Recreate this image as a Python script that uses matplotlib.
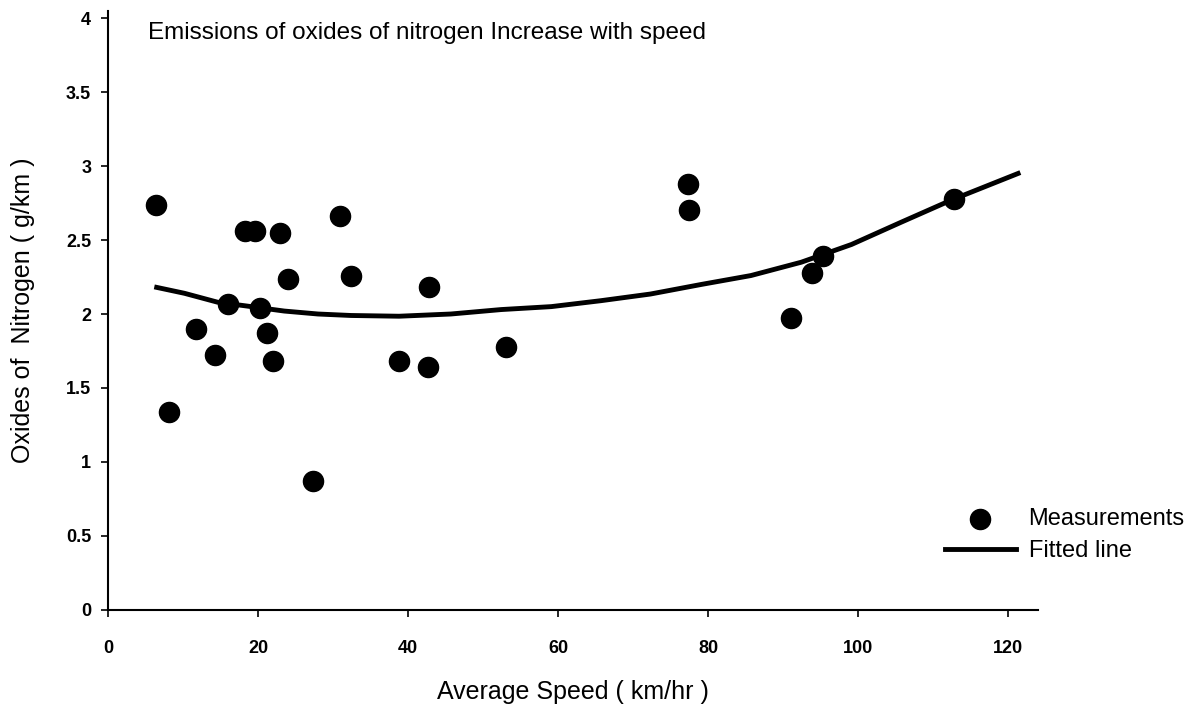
import matplotlib
matplotlib.use("Agg")
import matplotlib.pyplot as plt

plt.rcParams['font.family'] = ['Liberation Sans', 'DejaVu Sans']

speed = [6.4, 8.1, 11.7, 14.3, 16.0, 18.3, 19.6, 20.3, 21.2, 22.0, 22.9, 24.0,
         27.3, 30.9, 32.4, 38.8, 42.7, 42.8, 53.1, 77.3, 77.5, 91.1, 93.9, 95.3, 112.8]
nox = [2.74, 1.34, 1.90, 1.72, 2.07, 2.56, 2.56, 2.04, 1.87, 1.68, 2.55, 2.24,
       0.87, 2.66, 2.26, 1.68, 1.64, 2.18, 1.78, 2.88, 2.70, 1.97, 2.28, 2.39, 2.78]

# fitted curve
fit_speed = [6.5, 10.2, 14.6, 19.1, 23.5, 28.0, 32.4, 38.8, 45.7, 52.4, 59.1,
             65.7, 72.3, 79.1, 85.7, 92.4, 99.1, 105.7, 112.4, 121.3]
fit_nox = [2.18, 2.14, 2.08, 2.05, 2.02, 2.00, 1.99, 1.985, 2.00, 2.03, 2.05,
           2.09, 2.135, 2.20, 2.26, 2.35, 2.47, 2.62, 2.77, 2.95]

xticks = [0, 20, 40, 60, 80, 100, 120]
yticks = [0, 0.5, 1, 1.5, 2, 2.5, 3, 3.5, 4]
ytick_labels = ['0', '0.5', '1', '1.5', '2', '2.5', '3', '3.5', '4']

fig = plt.figure(figsize=(11.99, 7.15), dpi=100)
ax = fig.add_axes([0.090, 0.147, 0.776, 0.838])

ax.scatter(speed, nox, s=210, color='black', zorder=3, label='Measurements')
ax.plot(fit_speed, fit_nox, color='black', linewidth=3.5, label='Fitted line')

ax.set_xlim(0, 124)
ax.set_ylim(0, 4.05)
ax.set_xticks(xticks)
ax.set_yticks(yticks)
ax.set_yticklabels(ytick_labels)

for side in ['top', 'right']:
    ax.spines[side].set_visible(False)
for side in ['left', 'bottom']:
    ax.spines[side].set_linewidth(1.5)

ax.tick_params(axis='both', direction='out', length=5, width=1.2, labelsize=13)
ax.tick_params(axis='x', pad=17)
ax.tick_params(axis='y', pad=7)
for lab in ax.get_xticklabels() + ax.get_yticklabels():
    lab.set_fontweight('bold')

ax.set_xlabel('Average Speed ( km/hr )', fontsize=18, labelpad=16)
ax.set_ylabel('Oxides of  Nitrogen ( g/km )', fontsize=18, labelpad=22)

fig.text(148 / 1199, 1 - 33 / 715, 'Emissions of oxides of nitrogen Increase with speed',
         fontsize=17.5, va='center', ha='left')

ax.legend(loc='upper left', bbox_to_anchor=(933 / 1199, 1 - 496 / 715),
          bbox_transform=fig.transFigure, frameon=False, fontsize=17,
          handlelength=3.0, handletextpad=0.55, labelspacing=0.45, borderpad=0,
          markerscale=1.0)

fig.savefig('out.png', dpi=100)
